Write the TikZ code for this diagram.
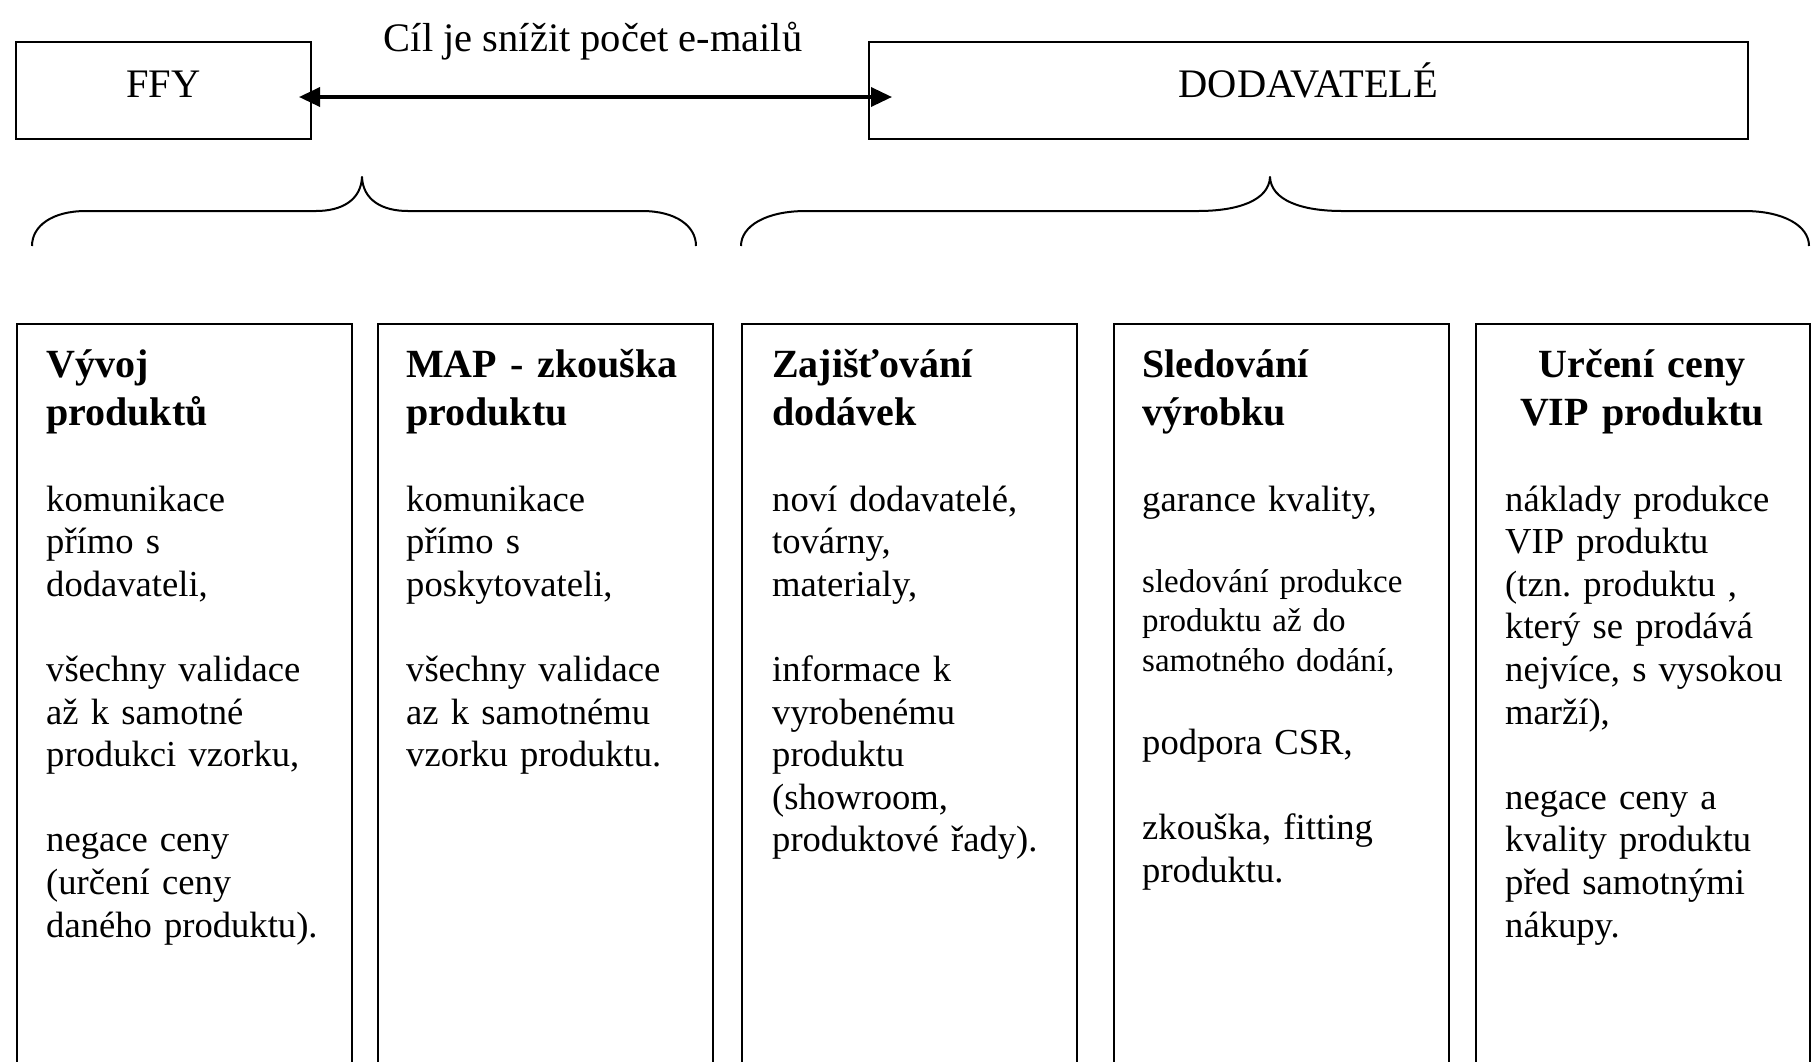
\documentclass[tikz,border=0pt]{standalone}
\usepackage{fontspec}
\setmainfont{Liberation Serif}
\usetikzlibrary{arrows.meta}
\frenchspacing

\newcommand{\topfont}{\fontsize{40.5}{46}\selectfont}
\newcommand{\headfont}{\fontsize{40}{48.5}\selectfont\bfseries}
\newcommand{\bodyfont}{\fontsize{36.6}{42.6}\selectfont}
\newcommand{\smallbodyfont}{\fontsize{33}{39.5}\selectfont}

\begin{document}
\begin{tikzpicture}[x=1pt,y=-1pt,
  topbox/.style={draw, line width=2pt, inner sep=0pt, minimum height=97pt},
  toptext/.style={anchor=base, inner sep=0pt, font=\topfont},
  colbox/.style={draw, line width=2pt, inner sep=0pt, anchor=north west,
    minimum width=335pt, minimum height=780pt},
  head/.style={anchor=base west, inner sep=0pt, text width=305pt, align=left, font=\headfont},
  body/.style={anchor=base west, inner sep=0pt, text width=305pt, align=left, font=\bodyfont},
  smallbody/.style={body, font=\smallbodyfont},
  bracepath/.style={line width=2pt, line join=round},
  link/.style={line width=3.5pt, >={Triangle[length=21pt, width=19pt]}, <->}
]
\useasboundingbox (0,0) rectangle (1815,1061);

% top row: the two parties and the link between them
\node[topbox, minimum width=295pt] (ffy) at (163.5,90.5) {};
\node[topbox, minimum width=879pt] (dod) at (1308.5,90.5) {};
\node[toptext] (ffyt) at (163.5,97) {FFY};
\node[toptext] (dodt) at (1308.5,97) {DODAVATELÉ};
\node[toptext] (goal) at (593,51) {Cíl je snížit počet e-mailů};
\draw[link, shorten <=-13pt, shorten >=-24pt]
  (ffy.east |- ffyt.base) -- (dod.west |- dodt.base);

% curly braces grouping the columns
\draw[bracepath] (32,246) .. controls (32,226) and (52,211) .. (86,211)
  -- (316,211) .. controls (342,211) and (361,200) .. (362,177)
  .. controls (363,200) and (382,211) .. (408,211)
  -- (642,211) .. controls (676,211) and (696,226) .. (696,246);
\draw[bracepath] (741,246) .. controls (741,226) and (766,211) .. (806,211)
  -- (1198,211) .. controls (1239,211) and (1269,200) .. (1270,177)
  .. controls (1271,200) and (1301,211) .. (1342,211)
  -- (1744,211) .. controls (1784,211) and (1809,226) .. (1809,246);

% columns
\begin{scope}
\clip (0,0) rectangle (1815,1061);
\node[colbox] (c1) at (16,323) {};
\node[colbox] (c2) at (377,323) {};
\node[colbox] (c3) at (741,323) {};
\node[colbox] (c4) at (1113,323) {};
\node[colbox, minimum width=334pt] (c5) at (1475,323) {};
\end{scope}

\node[head] (h1) at (46,377) {Vývoj\\produktů};
\node[head] (h2) at (406,377) {MAP - zkouška\\produktu};
\node[head] (h3) at (772,377) {Zajišťování\\dodávek};
\node[head] (h4) at (1142,377) {Sledování\\výrobku};
\node[head, anchor=base, align=center] (h5) at (1642,377) {Určení ceny\\VIP produktu};

\node[body] (b1) at (46,511) {komunikace\\přímo s\\dodavateli,\\[42.6pt]všechny validace\\až k samotné\\produkci vzorku,\\[42.6pt]negace ceny\\(určení ceny\\daného produktu).};
\node[body] (b2) at (406,511) {komunikace\\přímo s\\poskytovateli,\\[42.6pt]všechny validace\\az k samotnému\\vzorku produktu.};
\node[body] (b3) at (772,511) {noví dodavatelé,\\továrny,\\materialy,\\[42.6pt]informace k\\vyrobenému\\produktu\\(showroom,\\produktové řady).};
\node[body] (b4a) at (1142,511) {garance kvality,};
\node[smallbody] (b4b) at (1142,592) {sledování produkce\\produktu až do\\samotného dodání,};
\node[body] (b4c) at (1142,754) {podpora CSR,\\[43pt]zkouška, fitting\\produktu.};
\node[body] (b5) at (1505,511) {náklady produkce\\VIP produktu\\(tzn. produktu ,\\který se prodává\\nejvíce, s vysokou\\marží),\\[42.6pt]negace ceny a\\kvality produktu\\před samotnými\\nákupy.};
\end{tikzpicture}
\end{document}
